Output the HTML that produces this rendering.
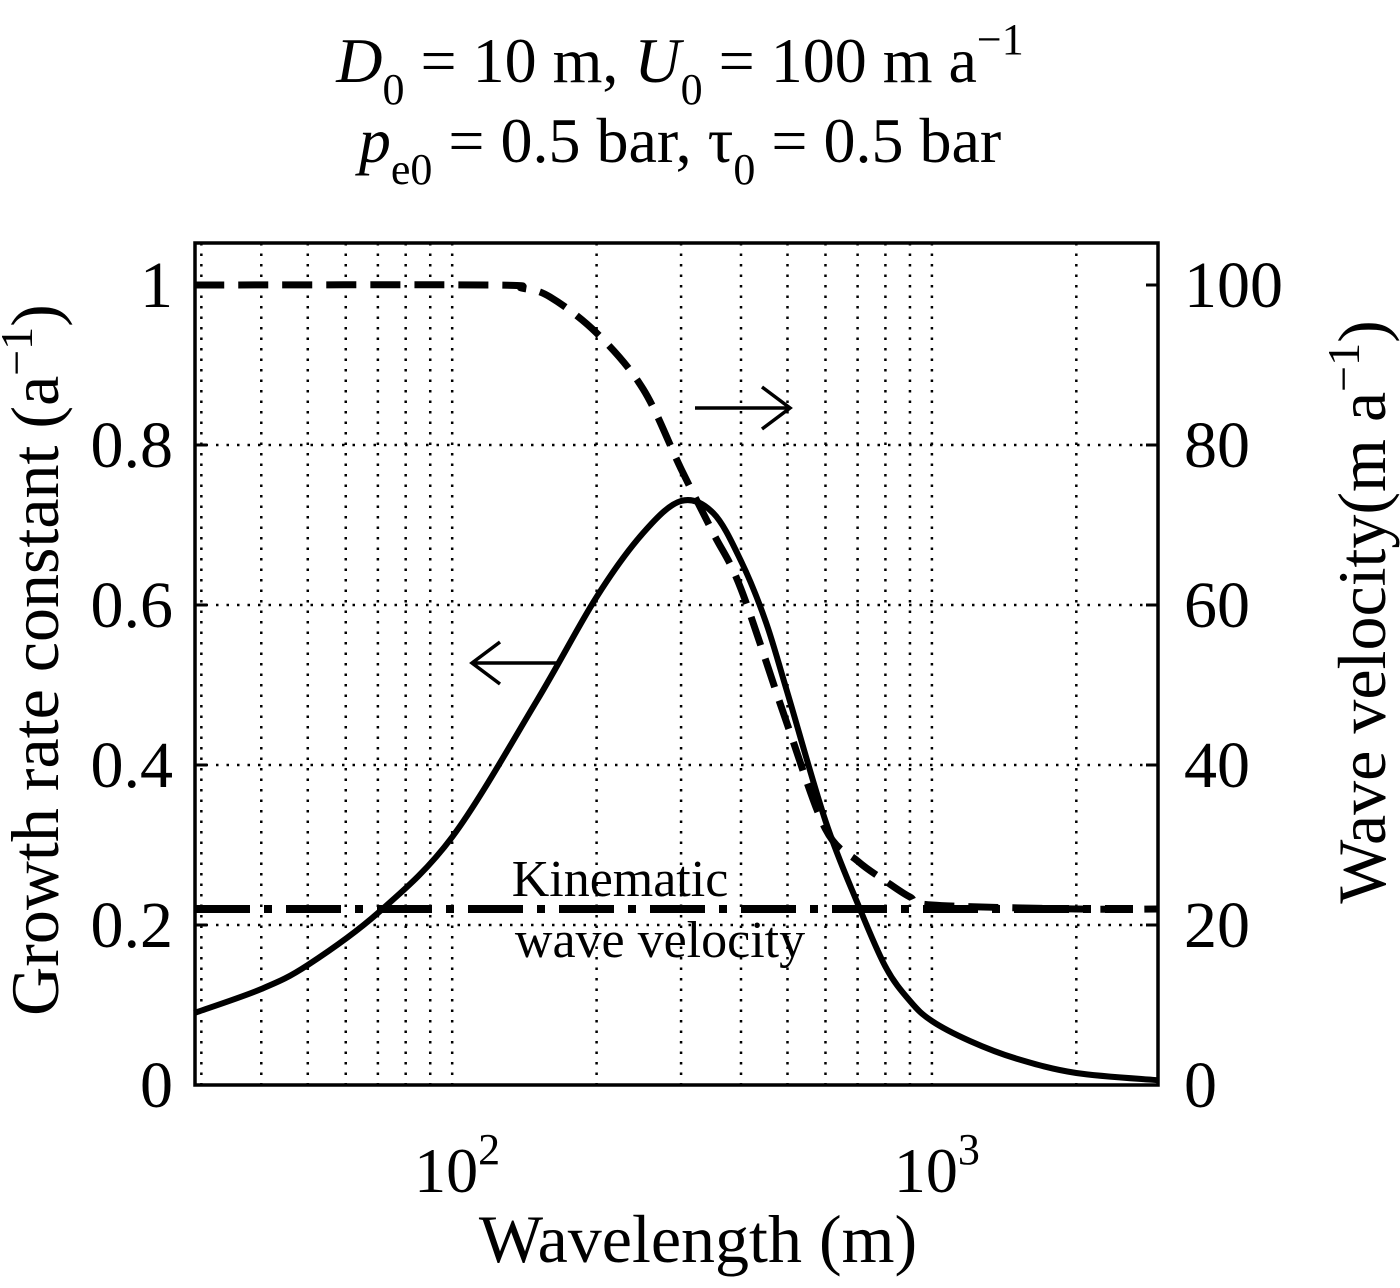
<!DOCTYPE html>
<html><head><meta charset="utf-8"><style>
body{margin:0;background:#fff}
svg text{font-family:"Liberation Serif",serif;fill:#000}
</style></head><body>
<svg id="chart" width="1400" height="1283" viewBox="0 0 1400 1283" xmlns="http://www.w3.org/2000/svg">
<g id="grid"></g>
<g id="series"></g>
<g id="axes"></g>
<text x="680" y="82" font-size="64" text-anchor="middle"><tspan font-style="italic">D</tspan><tspan font-size="44" dy="22">0</tspan><tspan dy="-22"> = 10 m,  </tspan><tspan font-style="italic">U</tspan><tspan font-size="44" dy="22">0</tspan><tspan dy="-22"> = 100 m a</tspan><tspan font-size="44" dy="-28">−1</tspan></text>
<text x="680" y="162" font-size="64" text-anchor="middle"><tspan font-style="italic">p</tspan><tspan font-size="44" dy="22">e0</tspan><tspan dy="-22"> = 0.5 bar,  τ</tspan><tspan font-size="44" dy="22">0</tspan><tspan dy="-22"> = 0.5 bar</tspan></text>
<text x="698" y="1262" font-size="68" text-anchor="middle">Wavelength (m)</text>
<text transform="translate(58,660) rotate(-90)" font-size="68" text-anchor="middle">Growth rate constant (a<tspan font-size="46" dy="-26">−1</tspan><tspan dy="26">)</tspan></text>
<text transform="translate(1385,612) rotate(-90)" font-size="68" text-anchor="middle">Wave velocity(m a<tspan font-size="46" dy="-26">−1</tspan><tspan dy="26">)</tspan></text>
<text x="620" y="896" font-size="52" text-anchor="middle">Kinematic</text>
<text x="660" y="957" font-size="52" text-anchor="middle">wave velocity</text>
<g stroke="#000" stroke-width="3.5" fill="none"><path d="M560 663 H472 M500 642 L472 663 L500 684"/></g>
<g stroke="#000" stroke-width="3.5" fill="none"><path d="M695 408 H790 M762 387 L790 408 L762 429"/></g>
</svg>
<script>
const growthX=[29,40,50,70,100,150,200,250,300,350,400,450,500,600,700,800,900,1000,1200,1500,2000,2960];
const growthY=[0.09,0.12,0.15,0.215,0.31,0.48,0.61,0.69,0.73,0.715,0.655,0.58,0.49,0.33,0.227,0.148,0.105,0.08,0.055,0.033,0.015,0.006];
const velX=[29,120,140,160,200,250,300,350,400,500,600,700,800,900,1000,2000,2960];
const velY=[100,100,99.6,98.5,94,87,77,69,62,45,32,28,25.5,23.5,22.5,22,22];
const kinematic=22;
const leftTicks=["0","0.2","0.4","0.6","0.8","1"];
const rightTicks=["0","20","40","60","80","100"];
const NS="http://www.w3.org/2000/svg";
const X0=195,X1=1158,YT=243,YB=1085;
const lmin=Math.log10(29.1),lmax=Math.log10(2960);
const xs=v=>X0+(Math.log10(v)-lmin)/(lmax-lmin)*(X1-X0);
const ys=v=>YB-v*800;
const yv=v=>YB-v*8;
function mk(p,t,a){const e=document.createElementNS(NS,t);for(const k in a)e.setAttribute(k,a[k]);document.getElementById(p).appendChild(e);return e;}
[30,40,50,60,70,80,90,100,200,300,400,500,600,700,800,900,1000,2000].forEach(v=>{
 const e=mk('grid','line',{x1:xs(v),x2:xs(v),y1:YT,y2:YB,stroke:'#000','stroke-width':2.5,'stroke-dasharray':'2.5 8'});
 
 
});
leftTicks.forEach((t,i)=>{
 const y=ys(i*0.2);
 if(i>0&&i<5){const g=mk('grid','line',{x1:X0,x2:X1,y1:y,y2:y,stroke:'#000','stroke-width':2.5,'stroke-dasharray':'2.5 8'});
 
 }
 const a=mk('axes','line',{x1:X0,x2:X0+12,y1:y,y2:y,stroke:'#000','stroke-width':3});
 
 
 const b=mk('axes','line',{x1:X1-12,x2:X1,y1:y,y2:y,stroke:'#000','stroke-width':3});
 
 
 const l=mk('axes','text',{x:X0-22,y:y+22,'font-size':66,'text-anchor':'end'});l.textContent=t;
 
 
 const r=mk('axes','text',{x:X1+26,y:y+22,'font-size':66});r.textContent=rightTicks[i];
 
 
});
[[100,'2'],[1000,'3']].forEach(([v,e])=>{
 const t=mk('axes','text',{x:xs(v)+5,y:1192,'font-size':64,'text-anchor':'middle'});
 t.innerHTML='10<tspan font-size="44" dy="-28">'+e+'</tspan>';
 
 
});
const fr=mk('axes','rect',{x:X0,y:YT,width:X1-X0,height:YB-YT,fill:'none',stroke:'#000','stroke-width':3.5});


function path(xa,ya,f){
 const P=xa.map((x,i)=>[xs(x),f(ya[i])]);
 let d='M'+P[0][0].toFixed(1)+' '+P[0][1].toFixed(1);
 for(let i=0;i<P.length-1;i++){
  const p0=P[Math.max(0,i-1)],p1=P[i],p2=P[i+1],p3=P[Math.min(P.length-1,i+2)];
  const c1=[p1[0]+(p2[0]-p0[0])/6,p1[1]+(p2[1]-p0[1])/6];
  const c2=[p2[0]-(p3[0]-p1[0])/6,p2[1]-(p3[1]-p1[1])/6];
  d+='C'+c1.map(v=>v.toFixed(1)).join(' ')+' '+c2.map(v=>v.toFixed(1)).join(' ')+' '+p2[0].toFixed(1)+' '+p2[1].toFixed(1);
 }
 return d;}
const kl=mk('series','line',{x1:X0,x2:X1-25,y1:yv(kinematic),y2:yv(kinematic),stroke:'#000','stroke-width':8,'stroke-dasharray':'55 14 8 14'});


const vp=mk('series','path',{d:path(velX,velY,yv),fill:'none',stroke:'#000','stroke-width':7,'stroke-dasharray':'30 14'});


const gp=mk('series','path',{d:path(growthX,growthY,ys),fill:'none',stroke:'#000','stroke-width':6});


</script>
</body></html>
